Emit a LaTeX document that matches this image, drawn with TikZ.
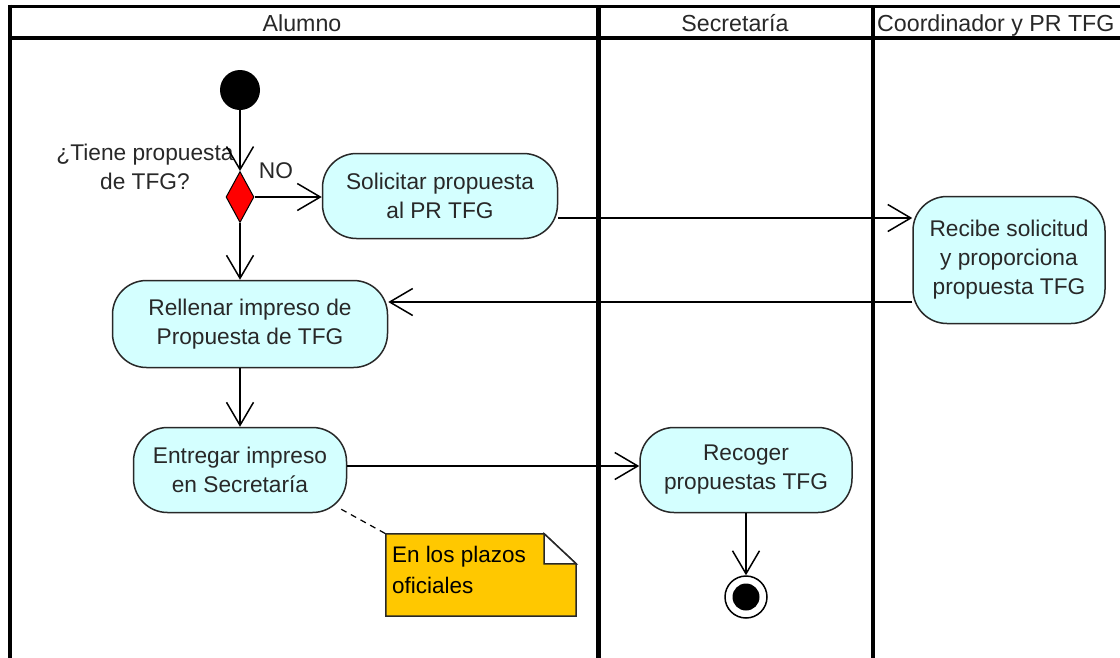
\documentclass[tikz,border=0pt]{standalone}
\usepackage{fontspec}
\setmainfont{Liberation Sans}
\usetikzlibrary{arrows.meta,shapes.geometric}
\definecolor{boxfill}{RGB}{212,255,255}
\definecolor{boxline}{RGB}{40,40,40}
\definecolor{txt}{RGB}{40,40,40}
\definecolor{notefill}{RGB}{255,200,0}
\tikzset{
  lane/.style={line width=4pt, black},
  act/.style={draw=boxline, line width=1.5pt, fill=boxfill, rounded corners=34pt,
    align=center, text=txt, inner sep=0pt},
  arr/.style={draw=black, line width=1.5pt,
    -{Straight Barb[length=23pt,width=27pt,line width=1.5pt]}},
  lbl/.style={text=txt, inner sep=0pt},
}
\begin{document}
\begin{tikzpicture}[x=1pt,y=-1pt,font=\fontsize{22.7}{29}\selectfont]
\useasboundingbox (0,0) rectangle (1120,657);
\clip (0,0) rectangle (1120,657);
\fill[white] (0,0) rectangle (1120,657);
% swimlane frame
\draw[lane, line width=3pt] (9.5,6.5) -- (1130,6.5);
\draw[lane] (9.5,4.5) -- (9.5,670);
\draw[lane] (9.5,37.5) -- (1130,37.5);
\draw[lane, line width=5pt] (598.5,5) -- (598.5,670);
\draw[lane] (873,5) -- (873,670);
\node[lbl, anchor=base, font=\fontsize{23.2}{29}\selectfont] (h1) at (302,31) {Alumno};
\node[lbl, anchor=base, font=\fontsize{23.2}{29}\selectfont] (h2) at (735,31) {Secretaría};
\node[lbl, anchor=base west, font=\fontsize{23.2}{29}\selectfont] (h3) at (877,31) {Coordinador y PR TFG};
% nodes
\node[circle, fill=black, minimum size=40pt, inner sep=0pt] (start) at (240,90) {};
\node[diamond, draw=black, line width=1pt, fill=red, minimum width=28pt, minimum height=51pt, inner sep=0pt] (dec) at (240,197) {};
\node[lbl, align=center] (q) at (145,167) {¿Tiene propuesta\\de TFG?};
\node[lbl] (no) at (276,171) {NO};
\node[act, minimum width=235pt, minimum height=85pt] (sol) at (440,196) {Solicitar propuesta\\al PR TFG};
\node[act, minimum width=192pt, minimum height=127pt] (rec) at (1009,260) {Recibe solicitud\\y proporciona\\propuesta TFG};
\node[act, minimum width=275pt, minimum height=87pt] (rel) at (250,324) {Rellenar impreso de\\Propuesta de TFG};
\node[act, minimum width=213pt, minimum height=85pt] (ent) at (240,470) {Entregar impreso\\en Secretaría};
\node[act, minimum width=212pt, minimum height=85pt] (rcg) at (746,470) {Recoger\\propuestas TFG};
\node[circle, draw=black, line width=1.5pt, fill=white, minimum size=42pt, inner sep=0pt] (fin) at (746,597) {};
\node[circle, fill=black, minimum size=27pt, inner sep=0pt] (finin) at (fin.center) {};
% note
\node[minimum width=190pt, minimum height=82pt, inner sep=0pt] (note) at (481,575) {};
\draw[line width=1.5pt, draw=boxline, fill=notefill] (note.north west) -- ([xshift=-32pt]note.north east) -- ([yshift=-30pt]note.north east) -- (note.south east) -- (note.south west) -- cycle;
\draw[line width=1.5pt, draw=boxline, fill=white, line join=miter] ([xshift=-32pt]note.north east) -- ([xshift=-32pt,yshift=-30pt]note.north east) -- ([yshift=-30pt]note.north east) -- cycle;
\node[lbl, text=black, align=left, anchor=north west, font=\fontsize{22.5}{31}\selectfont] (notetxt) at ([xshift=6pt,yshift=-12pt]note.north west) {En los plazos\\oficiales};
% connectors
\draw[arr] (start) -- (dec.north);
\draw[arr] (dec.east) -- (dec.east -| sol.west);
\coordinate (s1) at ([yshift=-22pt]sol.east);
\draw[arr] (s1) -- (s1 -| rec.west);
\coordinate (r1) at ([yshift=-42pt]rec.west);
\draw[arr] (r1) -- (r1 -| rel.east);
\draw[arr] (dec.south) -- (dec.south |- rel.north);
\draw[arr] (ent.north |- rel.south) -- (ent.north);
\coordinate (e1) at ([yshift=4pt]ent.east);
\draw[arr] (e1) -- (e1 -| rcg.west);
\draw[arr] (rcg.south) -- (fin.north);
\coordinate (d1) at ([xshift=-6pt,yshift=4pt]ent.south east);
\draw[line width=1.2pt, dash pattern=on 6pt off 5pt] (d1) -- (note.north west);
\end{tikzpicture}
\end{document}
